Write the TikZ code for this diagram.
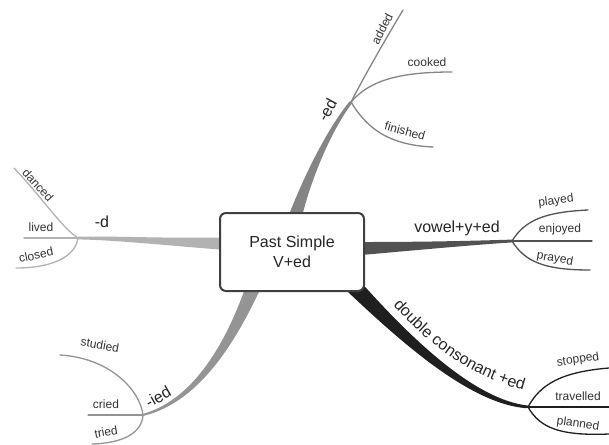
\documentclass[tikz,border=0pt]{standalone}
\usepackage{fontspec}
\setmainfont{Liberation Sans}
\usetikzlibrary{calc,decorations.text}
\newcommand\taperbranch[6]{%
  \fill[#6] ($#1+#5$) .. controls ($#2+0.55*#5$) and ($#3+0.3*#5$) .. ($#4+0.2*#5$)
     -- ($#4-0.2*#5$) .. controls ($#3-0.3*#5$) and ($#2-0.55*#5$) .. ($#1-#5$) -- cycle;}
\tikzset{
  leaf/.style={font=\fontsize{12}{12}\selectfont, text=black!80, inner sep=0pt},
  blabel/.style={font=\fontsize{16}{16}\selectfont, text=black!85, inner sep=0pt},
  twig/.style={line width=1.3pt, line cap=round},
  centerbox/.style={draw=black!75, line width=2pt, rounded corners=6pt, fill=white,
     minimum width=144pt, minimum height=78pt, align=center,
     font=\fontsize{16}{20}\selectfont, text=black!85},
}
\begin{document}
\begin{tikzpicture}[x=1pt,y=-1pt]
\useasboundingbox (0,0) rectangle (609,444);
\fill[white] (0,0) rectangle (609,444);
% junctions
\coordinate (dJ) at (78,238);
\coordinate (edJ) at (351,102);
\coordinate (vJ) at (512,241);
\coordinate (dcJ) at (528,407);
\coordinate (iedJ) at (143,415);
% tapered branches
\taperbranch{(240,244)}{(180,243)}{(120,238)}{(dJ)}{(0,7)}{black!30}
\draw[black!30, line width=1.5pt] (240,244) .. controls (180,243) and (120,238) .. (dJ);
\taperbranch{(290,235)}{(300,195)}{(325,135)}{(edJ)}{(7.8,1.9)}{black!48}
\draw[black!48, line width=1.5pt] (290,235) .. controls (300,195) and (325,135) .. (edJ);
\taperbranch{(350,249)}{(420,246)}{(470,243)}{(vJ)}{(0,7)}{black!68}
\draw[black!68, line width=1.5pt] (350,249) .. controls (420,246) and (470,243) .. (vJ);
\taperbranch{(340,272)}{(400,335)}{(470,402)}{(dcJ)}{(6.5,-6.2)}{black!88}
\draw[black!88, line width=1.5pt] (340,272) .. controls (400,335) and (470,402) .. (dcJ);
\taperbranch{(258,275)}{(235,335)}{(200,400)}{(iedJ)}{(7.4,2.9)}{black!42}
\draw[black!42, line width=1.5pt] (258,275) .. controls (235,335) and (200,400) .. (iedJ);
% center
\node[centerbox] (c) at (292,252) {Past Simple\\V+ed};
% -d leaves
\coordinate (dancedE) at (14,168);
\coordinate (livedE) at (24,238);
\coordinate (closedE) at (16,268);
\draw[twig, black!30] (dJ) .. controls (62,228) and (40,195) .. (dancedE);
\draw[twig, black!30] (dJ) -- (livedE);
\draw[twig, black!30] (dJ) .. controls (75,258) and (50,268) .. (closedE);
\node[leaf, rotate=-48] (danced) at (38,185) {danced};
\node[leaf] (lived) at (41,227) {lived};
\node[leaf, rotate=12] (closed) at (36,255) {closed};
\node[blabel] (dlab) at (102,222) {-d};
% -ed leaves
\coordinate (addedE) at (403,10);
\coordinate (cookedE) at (452,72);
\coordinate (finishedE) at (433,147);
\draw[twig, black!48] (edJ) .. controls (365,75) and (385,40) .. (addedE);
\draw[twig, black!48] (edJ) .. controls (370,80) and (400,72) .. (cookedE);
\draw[twig, black!48] (edJ) .. controls (365,125) and (385,145) .. (finishedE);
\node[leaf, rotate=63] (added) at (382,29) {added};
\node[leaf] (cooked) at (427,62) {cooked};
\node[leaf, rotate=-15] (finished) at (405,131) {finished};
\node[blabel, rotate=62] (edlab) at (327,110) {-ed};
% vowel leaves
\coordinate (playedE) at (588,210);
\coordinate (enjoyedE) at (592,241);
\coordinate (prayedE) at (590,270);
\draw[twig, black!68] (vJ) .. controls (525,220) and (545,212) .. (playedE);
\draw[twig, black!68] (vJ) -- (enjoyedE);
\draw[twig, black!68] (vJ) .. controls (525,262) and (545,270) .. (prayedE);
\node[leaf, rotate=7] (played) at (556,201) {played};
\node[leaf] (enjoyed) at (560,229) {enjoyed};
\node[leaf, rotate=-10] (prayed) at (555,259) {prayed};
\node[blabel] (vlab) at (457,228) {vowel+y+ed};
% double consonant leaves
\coordinate (stoppedE) at (609,368);
\coordinate (travelledE) at (609,407);
\coordinate (plannedE) at (609,434);
\draw[twig, black!88] (dcJ) .. controls (540,385) and (560,372) .. (stoppedE);
\draw[twig, black!88] (dcJ) -- (travelledE);
\draw[twig, black!88] (dcJ) .. controls (540,428) and (560,436) .. (plannedE);
\node[leaf, rotate=8] (stopped) at (578,360) {stopped};
\node[leaf] (travelled) at (578,396) {travelled};
\node[leaf, rotate=-8] (planned) at (578,424) {planned};
\coordinate (dcA) at (386,297);
\coordinate (dcB) at (534,393);
\path[decorate, decoration={text along path, text align=center,
   text={|\fontsize{16}{16}\selectfont\color{black!85}|double consonant +ed}}]
   (dcA) .. controls (418,334) and (462,377) .. (dcB);
% -ied leaves
\coordinate (studiedE) at (60,355);
\coordinate (criedE) at (88,415);
\coordinate (triedE) at (92,444);
\draw[twig, black!42] (iedJ) .. controls (140,390) and (110,358) .. (studiedE);
\draw[twig, black!42] (iedJ) -- (criedE);
\draw[twig, black!42] (iedJ) .. controls (142,432) and (125,443) .. (triedE);
\node[leaf, rotate=-10] (studied) at (100,345) {studied};
\node[leaf] (cried) at (106,404) {cried};
\node[leaf, rotate=10] (tried) at (106,432) {tried};
\node[blabel, rotate=30] (iedlab) at (158,397) {-ied};
\end{tikzpicture}
\end{document}
